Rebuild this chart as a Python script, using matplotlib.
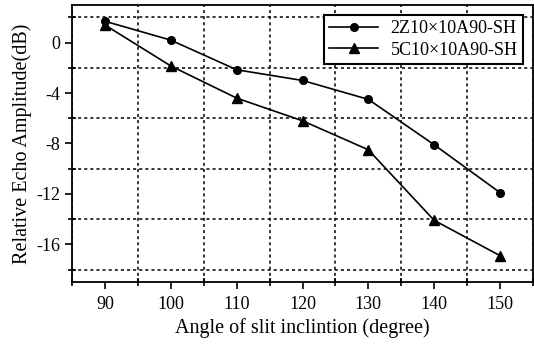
import matplotlib
matplotlib.use("Agg")
import matplotlib.pyplot as plt
from matplotlib.ticker import MultipleLocator

# data
angle = [90, 100, 110, 120, 130, 140, 150]
amp_2z = [1.7, 0.2, -2.15, -3.0, -4.5, -8.1, -11.9]
amp_5c = [1.4, -1.85, -4.4, -6.2, -8.5, -14.1, -16.9]
labels = ["2Z10\u00d710A90-SH", "5C10\u00d710A90-SH"]

plt.rcParams["font.family"] = ["Liberation Serif", "DejaVu Serif"]
plt.rcParams["axes.unicode_minus"] = False

fig = plt.figure(figsize=(5.34, 3.47), dpi=100)
ax = fig.add_axes([0.135, 0.187, 0.863, 0.799])

ax.plot(angle, amp_2z, "-o", color="black", lw=1.2, ms=5.5, label=labels[0])
ax.plot(angle, amp_5c, "-^", color="black", lw=1.2, ms=6.5, label=labels[1])

ax.set_xlim(85, 155)
ax.set_ylim(-19, 3)
ax.xaxis.set_major_locator(MultipleLocator(10))
ax.xaxis.set_minor_locator(MultipleLocator(10, offset=5))
ax.yaxis.set_major_locator(MultipleLocator(4))
ax.yaxis.set_minor_locator(MultipleLocator(4, offset=2))
ax.tick_params(which="major", direction="out", length=5, width=1.2, labelsize=13)
ax.tick_params(axis="x", which="major", pad=5)
ax.tick_params(which="minor", direction="inout", length=6, width=1.2)
ax.grid(which="minor", color="black", linestyle=(0, (2, 2)), linewidth=1.1)

for s in ax.spines.values():
    s.set_linewidth(1.3)

ax.set_xlabel("Angle of slit inclintion (degree)", fontsize=14.5, labelpad=4)
ax.set_ylabel("Relative Echo Amplitude(dB)", fontsize=14.5, labelpad=3)

leg = ax.legend(loc="upper right", fancybox=False, edgecolor="black",
                framealpha=1, fontsize=13, handlelength=2.7, borderaxespad=0.55,
                borderpad=0.3, labelspacing=0.25, handletextpad=0.7)
leg.get_frame().set_linewidth(1.5)

fig.savefig("out.png", dpi=100)
